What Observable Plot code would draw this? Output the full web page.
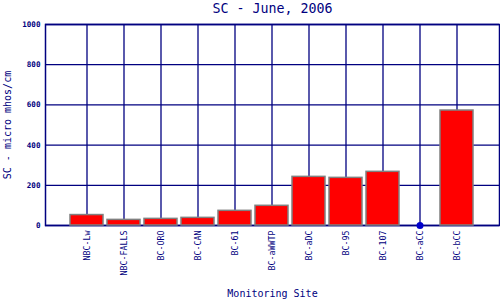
<!DOCTYPE html>
<html><head><meta charset="utf-8">
<script src="https://cdn.jsdelivr.net/npm/d3@7"></script>
<script src="https://cdn.jsdelivr.net/npm/@observablehq/plot@0.6"></script>
<style>body{margin:0;background:#fff}</style>
</head><body><div id="chart"></div>
<script>
const sites = ["NBC-Lw","NBC-FALLS","BC-ORO","BC-CAN","BC-61","BC-aWWTP","BC-aDC","BC-95","BC-107","BC-aCC","BC-bCC"];
const values = [52, 28, 33, 38, 73, 98, 242, 237, 267, null, 572];
const zeroSites = ["BC-aCC"];
const yTicks = [0, 200, 400, 600, 800, 1000];
const title = "SC - June, 2006";
const xLabel = "Monitoring Site";
const yLabel = "SC - micro mhos/cm";

const bars = sites.map((s, i) => ({site: s, value: values[i]})).filter(d => d.value != null);
const dots = zeroSites.map(s => ({site: s, value: 0}));
const navy = "#000080";

const chart = Plot.plot({
  width: 500, height: 300,
  marginLeft: 45, marginRight: 1, marginTop: 24, marginBottom: 75,
  style: {fontFamily: "DejaVu Sans Mono", color: navy, background: "#fff", overflow: "visible"},
  x: {type: "band", domain: sites, paddingInner: 0.1, paddingOuter: 0.55, label: null},
  y: {domain: [0, 1000], label: null},
  marks: [
    Plot.gridX(sites, {stroke: navy, strokeOpacity: 1, strokeWidth: 1.3}),
    Plot.gridY(yTicks, {stroke: navy, strokeOpacity: 1, strokeWidth: 1.3}),
    Plot.frame({stroke: navy, strokeWidth: 1.5}),
    Plot.barY(bars, {x: "site", y: "value", fill: "#ff0000", stroke: "#808080", strokeWidth: 1.5}),
    Plot.dot(dots, {x: "site", y: "value", r: 3.5, fill: "#0000cc", stroke: "none"}),
    Plot.axisY(yTicks, {tickSize: 0, tickPadding: 5, fontWeight: "bold", fontSize: 7.6, tickFormat: d => String(d), label: null}),
    Plot.axisX(sites, {tickSize: 0, tickRotate: -90, tickPadding: 5, fontSize: 8.3, label: null}),
    Plot.text([title], {text: d => d, frameAnchor: "top", lineAnchor: "middle", dy: -15.5, fontSize: 13.3}),
    Plot.text([xLabel], {text: d => d, frameAnchor: "bottom", lineAnchor: "middle", dy: 68, fontSize: 10}),
    Plot.text([yLabel], {text: d => d, frameAnchor: "left", textAnchor: "middle", lineAnchor: "middle", dx: -38, rotate: -90, fontSize: 10})
  ]
});
document.getElementById("chart").appendChild(chart);
</script>
</body></html>
